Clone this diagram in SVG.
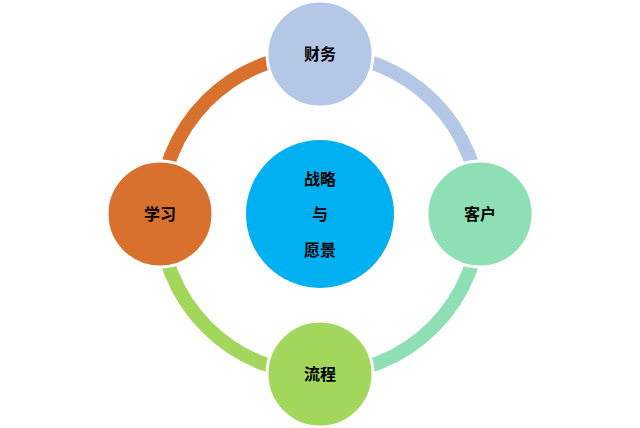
<svg xmlns="http://www.w3.org/2000/svg" width="640" height="428" viewBox="0 0 640 428">
<style>
.arc{fill:none;stroke-width:14}
.node{stroke:#ffffff;stroke-width:3}
.t{font-family:"Noto Sans CJK SC","Noto Sans",sans-serif;font-weight:bold;font-size:16px;fill:#000;text-anchor:middle;dominant-baseline:central}
</style>
<rect width="640" height="428" fill="#ffffff"/>
<g id="connectors">
<path class="arc" stroke="#B4C7E7" d="M320,54 A160,160 0 0 1 480,214"/>
<path class="arc" stroke="#8EDFB4" d="M480,214 A160,160 0 0 1 320,374"/>
<path class="arc" stroke="#A2D75C" d="M320,374 A160,160 0 0 1 160,214"/>
<path class="arc" stroke="#D8712E" d="M160,214 A160,160 0 0 1 320,54"/>
</g>
<g id="center">
<circle cx="320" cy="214" r="74" fill="#00B0F0"/>
<text class="t" x="320" y="178">战略</text>
<text class="t" x="320" y="213">与</text>
<text class="t" x="320" y="249">愿景</text>
</g>
<g id="finance">
<circle class="node" cx="320" cy="54" r="53" fill="#B4C7E7"/>
<text class="t" x="320" y="53">财务</text>
</g>
<g id="customer">
<circle class="node" cx="480" cy="214" r="53" fill="#8EDFB4"/>
<text class="t" x="480" y="213">客户</text>
</g>
<g id="process">
<circle class="node" cx="320" cy="374" r="53" fill="#A2D75C"/>
<text class="t" x="320" y="373">流程</text>
</g>
<g id="learning">
<circle class="node" cx="160" cy="214" r="53" fill="#D8712E"/>
<text class="t" x="160" y="213">学习</text>
</g>
</svg>
